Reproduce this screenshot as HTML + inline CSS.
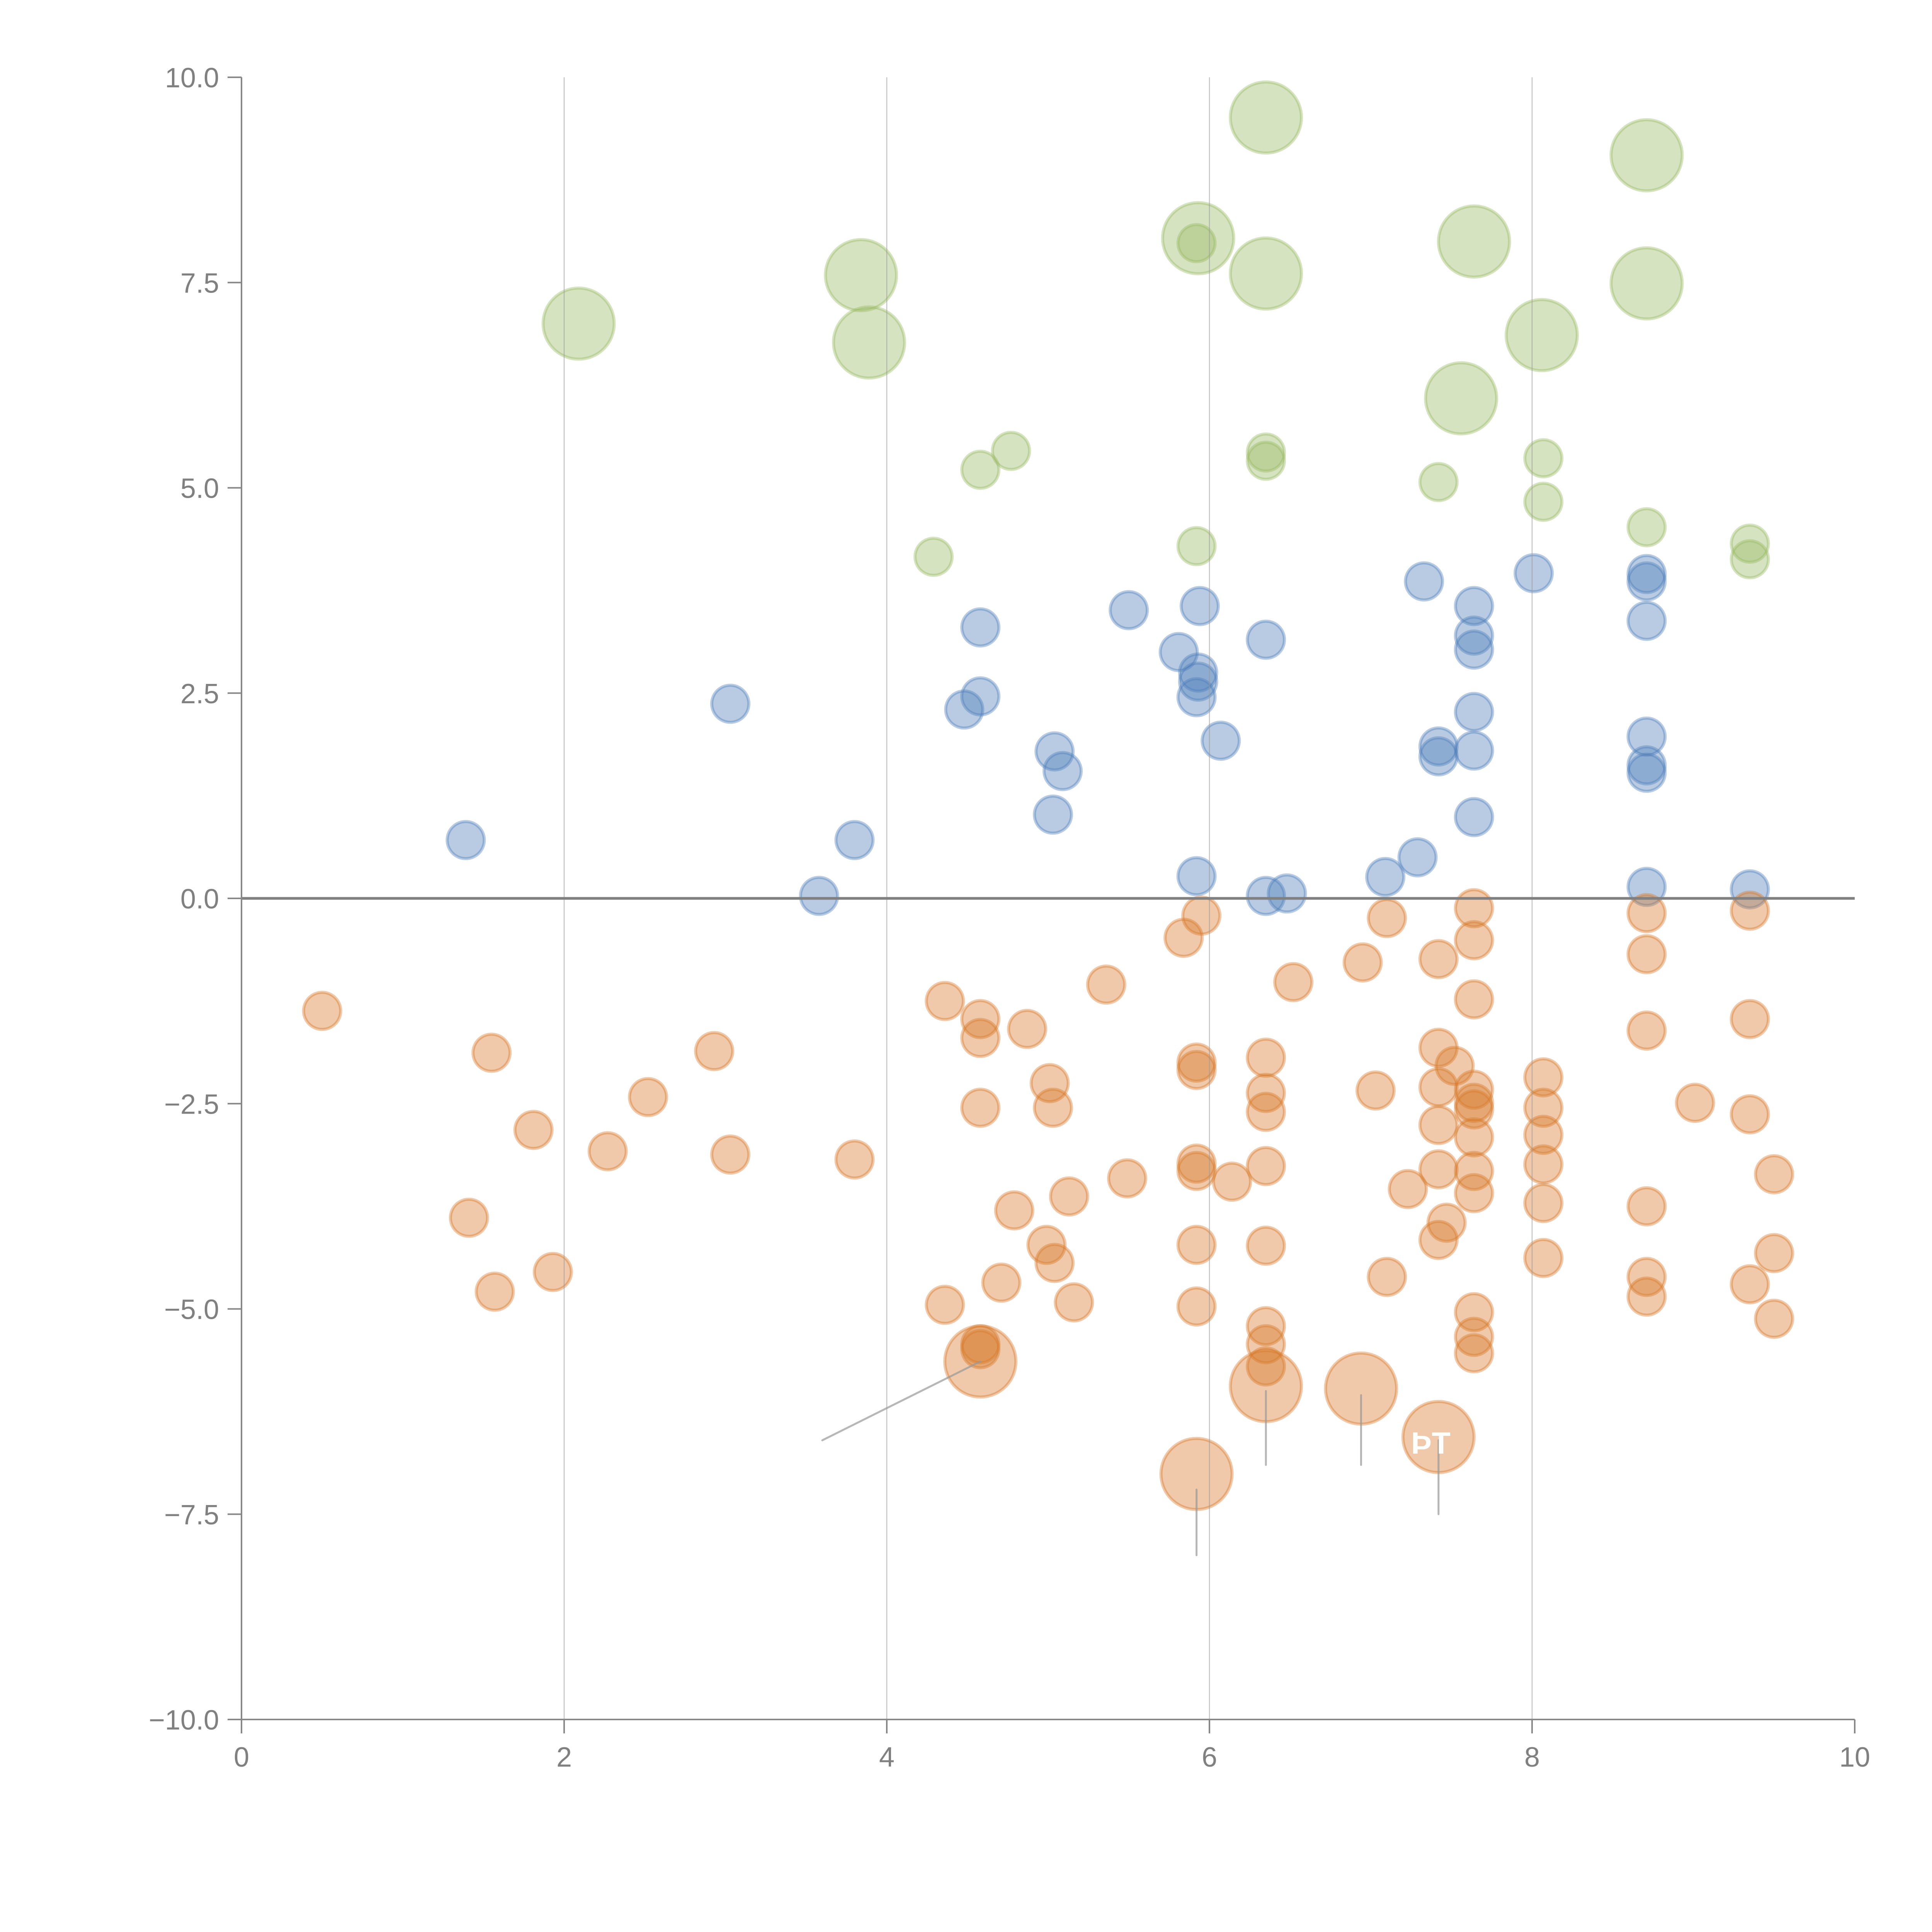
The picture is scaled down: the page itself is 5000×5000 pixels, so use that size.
<!DOCTYPE html>
<html><head><meta charset="utf-8">
<style>
html,body{margin:0;padding:0;background:#fff;}
svg{display:block;}
text{font-family:"Liberation Sans",sans-serif;}
</style></head>
<body>
<svg id="chart" width="5000" height="5000" viewBox="0 0 5000 5000" xmlns="http://www.w3.org/2000/svg">
<g id="gPts"></g>
<g id="gGrid"></g>
<g id="gAnn"></g>
<g id="gAxes"></g>
</svg>
<script>
const xTicks = [0, 2, 4, 6, 8, 10];
const xTickLabels = ["0", "2", "4", "6", "8", "10"];
const yTicks = [-10, -7.5, -5, -2.5, 0, 2.5, 5, 7.5, 10];
const yTickLabels = ["\u221210.0", "\u22127.5", "\u22125.0", "\u22122.5", "0.0", "2.5", "5.0", "7.5", "10.0"];

const greenLargeX = [6.35,8.71,5.93,3.84,6.35,7.64,2.09,3.89,8.71,8.06,7.56];
const greenLargeY = [9.51,9.05,8.04,7.59,7.61,8.0,7.0,6.77,7.49,6.86,6.09];
const greenSmallX = [5.92,6.35,6.35,4.77,4.58,7.42,8.07,8.07,4.29,5.92,8.71,9.35,9.35];
const greenSmallY = [7.98,5.43,5.33,5.45,5.22,5.07,5.36,4.83,4.16,4.29,4.52,4.32,4.13];

const blueX = [1.39,3.03,3.58,3.80,4.48,4.58,4.58,5.04,5.09,5.03,5.50,5.81,5.93,5.93,5.92,5.94,6.07,5.92,6.35,6.35,6.48,7.09,7.29,7.33,7.42,7.42,7.64,7.64,7.64,7.64,7.64,7.64,8.01,8.71,8.71,8.71,8.71,8.71,8.71,8.71,9.35];
const blueY = [0.71,2.37,0.03,0.71,2.30,2.46,3.30,1.79,1.55,1.02,3.51,3.0,2.75,2.64,2.45,3.56,1.92,0.27,3.15,0.03,0.06,0.26,0.50,3.86,1.85,1.73,3.56,3.20,3.03,2.27,1.80,0.99,3.96,3.95,3.86,3.38,1.97,1.62,1.53,0.14,0.11];

const orangeX = [0.50,1.55,1.41,1.57,1.81,1.93,2.27,2.52,2.93,3.03,3.80,4.36,4.36,4.58,4.58,4.58,4.58,4.58,4.71,4.79,4.87,5.01,5.03,4.99,5.04,5.13,5.16,5.36,5.49,5.84,5.95,5.92,5.92,5.92,5.92,5.92,5.92,6.14,6.35,6.35,6.35,6.35,6.35,6.35,6.35,6.35,6.52,6.95,7.10,7.03,7.10,7.23,7.42,7.42,7.52,7.42,7.42,7.42,7.47,7.42,7.64,7.64,7.64,7.64,7.64,7.64,7.64,7.64,7.64,7.64,7.64,7.64,8.07,8.07,8.07,8.07,8.07,8.07,8.71,8.71,8.71,8.71,8.71,8.71,9.01,9.35,9.35,9.35,9.35,9.50,9.50,9.50];
const orangeY = [-1.37,-1.88,-3.89,-4.79,-2.82,-4.55,-3.08,-2.42,-1.86,-3.12,-3.18,-1.25,-4.95,-1.47,-1.70,-2.55,-5.43,-5.49,-4.68,-3.80,-1.59,-2.25,-2.55,-4.22,-4.44,-3.63,-4.92,-1.05,-3.41,-0.48,-0.21,-2.0,-2.09,-3.23,-3.32,-4.22,-4.97,-3.45,-1.94,-2.37,-2.60,-3.26,-4.23,-5.21,-5.43,-5.70,-1.02,-0.78,-0.24,-2.34,-4.61,-3.54,-0.74,-1.82,-2.04,-2.30,-2.76,-3.30,-3.95,-4.16,-0.12,-0.51,-1.23,-2.33,-2.49,-2.57,-2.91,-3.32,-3.59,-5.04,-5.34,-5.54,-2.18,-2.55,-2.88,-3.24,-3.71,-4.38,-0.18,-0.68,-1.61,-3.75,-4.61,-4.85,-2.49,-0.15,-1.47,-2.63,-4.70,-3.36,-4.32,-5.12];
const orangeLargeX = [4.58,6.35,6.94,7.42,5.92];
const orangeLargeY = [-5.64,-5.94,-5.97,-6.56,-7.01];

const NS = "http://www.w3.org/2000/svg";
const X0 = 625, X1 = 4800, YT = 200, YB = 4450;
function sx(v){ return X0 + (v - 0) / 10 * (X1 - X0); }
function sy(v){ return YB - (v + 10) / 20 * (YB - YT); }
function mk(tag, attrs, parent){
  const el = document.createElementNS(NS, tag);
  for (const k in attrs) el.setAttribute(k, attrs[k]);
  parent.appendChild(el);
  return el;
}
const gPts = document.getElementById('gPts');
const gGrid = document.getElementById('gGrid');
const gAnn = document.getElementById('gAnn');
const gAxes = document.getElementById('gAxes');

function drawSeries(xs, ys, r, color, name){
  for (let i = 0; i < xs.length; i++){
    const c = mk('circle', {cx: sx(xs[i]), cy: sy(ys[i]), r: r, fill: color, 'fill-opacity': 0.4, stroke: color, 'stroke-opacity': 0.4, 'stroke-width': 8}, gPts);
    
    
  }
}
const BLUE = "rgb(78,125,185)", ORANGE = "rgb(215,120,40)", GREEN = "rgb(153,185,97)";
drawSeries(blueX, blueY, 48, BLUE, 'blue-point');
drawSeries(orangeX, orangeY, 48, ORANGE, 'orange-point');
drawSeries(orangeLargeX, orangeLargeY, 92, ORANGE, 'orange-large-bubble');
drawSeries(greenSmallX, greenSmallY, 48, GREEN, 'green-point');
drawSeries(greenLargeX, greenLargeY, 92, GREEN, 'green-large-bubble');

for (let i = 1; i < xTicks.length - 1; i++){
  const l = mk('line', {x1: sx(xTicks[i]), x2: sx(xTicks[i]), y1: YT, y2: YB, stroke: '#999', 'stroke-width': 2.5, 'stroke-opacity': 0.6}, gGrid);
  
  
}

const leaderDy = [[-0.0, 0.0], [-6.0, -6.9], [-6.05, -6.9], [-6.6, -7.5], [-7.2, -8.0]];
{
  const l = mk('line', {x1: sx(3.6), y1: sy(-6.6), x2: sx(orangeLargeX[0]), y2: sy(orangeLargeY[0]), stroke: '#999', 'stroke-width': 5, 'stroke-opacity': 0.7, 'stroke-linecap': 'round'}, gAnn);
  
  
}
for (let i = 1; i < orangeLargeX.length; i++){
  const l = mk('line', {x1: sx(orangeLargeX[i]), x2: sx(orangeLargeX[i]), y1: sy(leaderDy[i][0]), y2: sy(leaderDy[i][1]), stroke: '#999', 'stroke-width': 5, 'stroke-opacity': 0.7, 'stroke-linecap': 'round'}, gAnn);
  
  
}
{
  const t = mk('text', {x: sx(7.42) - 20, y: sy(-6.62) + 30, fill: '#fff', 'font-size': 80, 'font-weight': 'bold', 'text-anchor': 'middle'}, gAnn);
  t.textContent = 'ÞT';
  
  
}

{
  const l = mk('line', {x1: X0, x2: X1, y1: sy(0), y2: sy(0), stroke: '#808080', 'stroke-width': 7}, gAxes);
  
  
}
{
  const a = mk('line', {x1: X0, x2: X1, y1: YB, y2: YB, stroke: '#888', 'stroke-width': 4}, gAxes);
  
  
  const b = mk('line', {x1: X0, x2: X0, y1: YT, y2: YB, stroke: '#888', 'stroke-width': 4}, gAxes);
  
  
}
for (let i = 0; i < xTicks.length; i++){
  const x = sx(xTicks[i]);
  const tk = mk('line', {x1: x, x2: x, y1: YB, y2: YB + 36, stroke: '#888', 'stroke-width': 4}, gAxes);
  
  
  const t = mk('text', {x: x, y: YB + 122, fill: '#808080', 'font-size': 72, 'text-anchor': 'middle'}, gAxes);
  t.textContent = xTickLabels[i];
  
  
}
for (let i = 0; i < yTicks.length; i++){
  const y = sy(yTicks[i]);
  const tk = mk('line', {x1: X0 - 36, x2: X0, y1: y, y2: y, stroke: '#888', 'stroke-width': 4}, gAxes);
  
  
  const t = mk('text', {x: X0 - 58, y: y + 26, fill: '#808080', 'font-size': 72, 'text-anchor': 'end'}, gAxes);
  t.textContent = yTickLabels[i];
  
  
}
</script>
</body></html>
